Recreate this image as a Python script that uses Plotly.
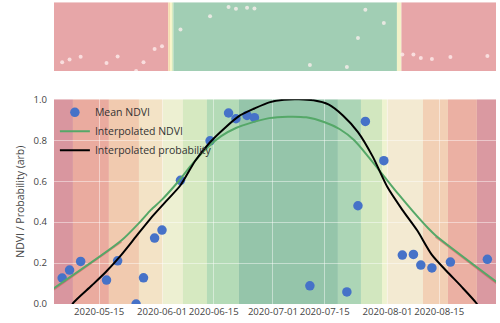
import plotly.graph_objects as go

# ---------------- data ----------------
obs_dates = ["2020-05-05", "2020-05-07", "2020-05-10", "2020-05-17", "2020-05-20",
             "2020-05-25", "2020-05-27", "2020-05-30", "2020-06-01", "2020-06-06",
             "2020-06-14", "2020-06-19", "2020-06-21", "2020-06-24", "2020-06-26",
             "2020-07-11", "2020-07-21", "2020-07-24", "2020-07-26", "2020-07-31",
             "2020-08-05", "2020-08-08", "2020-08-10", "2020-08-13", "2020-08-18",
             "2020-08-28"]
mean_ndvi = [0.127, 0.166, 0.208, 0.117, 0.211, 0.0, 0.128, 0.322, 0.361, 0.604,
             0.797, 0.933, 0.905, 0.921, 0.910, 0.089, 0.059, 0.480, 0.892, 0.700,
             0.239, 0.242, 0.190, 0.176, 0.205, 0.218]

ndvi_dates = ["2020-05-02", "2020-05-21", "2020-05-26", "2020-05-29", "2020-06-01",
              "2020-06-05", "2020-06-09", "2020-06-13", "2020-06-17", "2020-06-21",
              "2020-06-25", "2020-06-30", "2020-07-05", "2020-07-10", "2020-07-15",
              "2020-07-19", "2020-07-23", "2020-07-27", "2020-07-31", "2020-08-04",
              "2020-08-08", "2020-08-12", "2020-08-14", "2020-08-31"]
interp_ndvi = [0.068, 0.31, 0.40, 0.46, 0.51, 0.59, 0.68, 0.76, 0.82, 0.86,
               0.885, 0.908, 0.915, 0.912, 0.888, 0.855, 0.80, 0.715, 0.625, 0.535,
               0.45, 0.37, 0.335, 0.101]

# extrapolated NDVI segments (reddish shadow under the green line at both ends)
extrap_left_dates = ["2020-05-02", "2020-05-21"]
extrap_left_vals = [0.062, 0.304]
extrap_right_dates = ["2020-08-14", "2020-08-31"]
extrap_right_vals = [0.329, 0.095]

prob_dates = ["2020-05-07", "2020-05-08", "2020-05-13", "2020-05-17", "2020-05-21",
              "2020-05-25", "2020-05-29", "2020-06-02", "2020-06-06", "2020-06-10",
              "2020-06-14", "2020-06-18", "2020-06-22", "2020-06-26", "2020-06-30",
              "2020-07-04", "2020-07-08", "2020-07-12", "2020-07-16", "2020-07-20",
              "2020-07-24", "2020-07-28", "2020-08-01", "2020-08-05", "2020-08-09",
              "2020-08-13", "2020-08-17", "2020-08-21", "2020-08-25", "2020-08-26"]
interp_prob = [-0.03, 0.005, 0.09, 0.16, 0.24, 0.33, 0.42, 0.50, 0.58, 0.70,
               0.79, 0.86, 0.92, 0.955, 0.985, 0.998, 1.0, 0.995, 0.975, 0.92,
               0.84, 0.72, 0.57, 0.46, 0.36, 0.24, 0.16, 0.085, 0.005, -0.025]

# background bands (edges in dates) and colours
band_edges = ["2020-05-02 19:00", "2020-05-07 22:00", "2020-05-17 15:30", "2020-05-25 18:30",
              "2020-06-01 06:00", "2020-06-06 16:00", "2020-06-13 04:00", "2020-06-21 19:30",
              "2020-07-18 14:00", "2020-07-24 19:30", "2020-07-30 12:00", "2020-07-31 20:00",
              "2020-08-10 14:00", "2020-08-17 08:00", "2020-08-25 04:00", "2020-08-30 08:00"]
band_colors = ["#d9969f", "#eaab9f", "#f1caaf", "#f3e3c6", "#edf0d2", "#d6e9c1", "#b4dbb7",
               "#95c5aa", "#acd5b6", "#d2e7bf", "#eef3d0", "#f3ead2", "#f2d0b5", "#ebb0a3",
               "#da99a1"]

# top classification strip
strip_edges = ["2020-05-02 19:00", "2020-06-02 16:00", "2020-06-03 04:00", "2020-06-03 16:00",
               "2020-06-04 02:00", "2020-08-03 13:00", "2020-08-04 18:00", "2020-08-30 08:00"]
strip_colors = ["#e7a6a8", "#f6dcb0", "#fbf5c8", "#d6ebc0", "#a1ceb4", "#f3f2c8", "#e7a6a8"]

tick_vals = ["2020-05-15", "2020-06-01", "2020-06-15", "2020-07-01",
             "2020-07-15", "2020-08-01", "2020-08-15"]
y_ticks = [0.0, 0.2, 0.4, 0.6, 0.8, 1.0]
x_range = ["2020-05-02 19:00", "2020-08-30 08:00"]

FONT = "Open Sans"
MAIN_TOP = 0.6778

fig = go.Figure()

# ---- top panel dots ----
fig.add_trace(go.Scatter(x=obs_dates, y=mean_ndvi, mode="markers", xaxis="x2", yaxis="y2",
                         marker=dict(size=4, color="rgba(255,240,240,0.75)", line=dict(width=0)),
                         showlegend=False, hoverinfo="skip"))

# ---- main panel ----
fig.add_trace(go.Scatter(x=extrap_left_dates, y=extrap_left_vals, mode="lines",
                         line=dict(color="rgba(196,78,82,0.55)", width=2),
                         showlegend=False, hoverinfo="skip"))
fig.add_trace(go.Scatter(x=extrap_right_dates, y=extrap_right_vals, mode="lines",
                         line=dict(color="rgba(196,78,82,0.55)", width=2),
                         showlegend=False, hoverinfo="skip"))
fig.add_trace(go.Scatter(x=obs_dates, y=mean_ndvi, mode="markers", name="Mean NDVI",
                         marker=dict(size=9.5, color="#4672c8", line=dict(width=0))))
fig.add_trace(go.Scatter(x=ndvi_dates, y=interp_ndvi, mode="lines", name="Interpolated NDVI",
                         line=dict(color="#55a868", width=2, shape="spline", smoothing=0.7)))
fig.add_trace(go.Scatter(x=prob_dates, y=interp_prob, mode="lines", name="Interpolated probability",
                         line=dict(color="#000000", width=2, shape="spline", smoothing=0.7)))

shapes = []
for i, c in enumerate(band_colors):
    shapes.append(dict(type="rect", xref="x", yref="y", x0=band_edges[i], x1=band_edges[i + 1],
                       y0=0, y1=1, fillcolor=c, line=dict(width=0), layer="below"))
for i, c in enumerate(strip_colors):
    shapes.append(dict(type="rect", xref="x2", yref="y2", x0=strip_edges[i], x1=strip_edges[i + 1],
                       y0=0, y1=1, fillcolor=c, line=dict(width=0), layer="below"))

fig.update_layout(
    width=500, height=323,
    margin=dict(l=54, r=4, t=2, b=19, autoexpand=False),
    paper_bgcolor="white", plot_bgcolor="white",
    font=dict(family=FONT, size=10, color="#444444"),
    shapes=shapes,
    showlegend=True,
    legend=dict(x=0.002, y=MAIN_TOP + 0.005, xanchor="left", yanchor="top", bgcolor="rgba(0,0,0,0)",
                font=dict(family=FONT, size=10.5, color="#333333"), borderwidth=0),
    xaxis=dict(domain=[0, 1], anchor="y", type="date", range=x_range, automargin=False,
               tickvals=tick_vals, tickformat="%Y-%m-%d", tickangle=0,
               showgrid=True, gridcolor="rgba(255,255,255,0.45)", gridwidth=1,
               zeroline=False, showline=False, ticks="",
               tickfont=dict(family=FONT, size=9.6, color="#444444")),
    yaxis=dict(domain=[0, MAIN_TOP], anchor="x", range=[0, 1], tickvals=y_ticks, tickformat=".1f",
               automargin=False,
               showgrid=True, gridcolor="rgba(255,255,255,0.45)", gridwidth=1,
               zeroline=False, showline=False, ticks="outside", ticklen=4, tickcolor="rgba(0,0,0,0)",
               tickfont=dict(family=FONT, size=9.6, color="#444444"),
               title=dict(text="NDVI / Probability (arb)", standoff=6,
                          font=dict(family=FONT, size=10.5, color="#444444"))),
    xaxis2=dict(domain=[0, 1], anchor="y2", type="date", range=x_range, matches="x", automargin=False,
                showgrid=False, showticklabels=False, zeroline=False, showline=False, ticks=""),
    yaxis2=dict(domain=[0.7715, 0.999], anchor="x2", range=[0, 1], automargin=False,
                showgrid=False, showticklabels=False, zeroline=False, showline=False, ticks=""),
)

fig.write_html("out.html", config={"displayModeBar": False},
               post_script="document.body.style.margin='0';document.body.style.overflow='hidden';")
